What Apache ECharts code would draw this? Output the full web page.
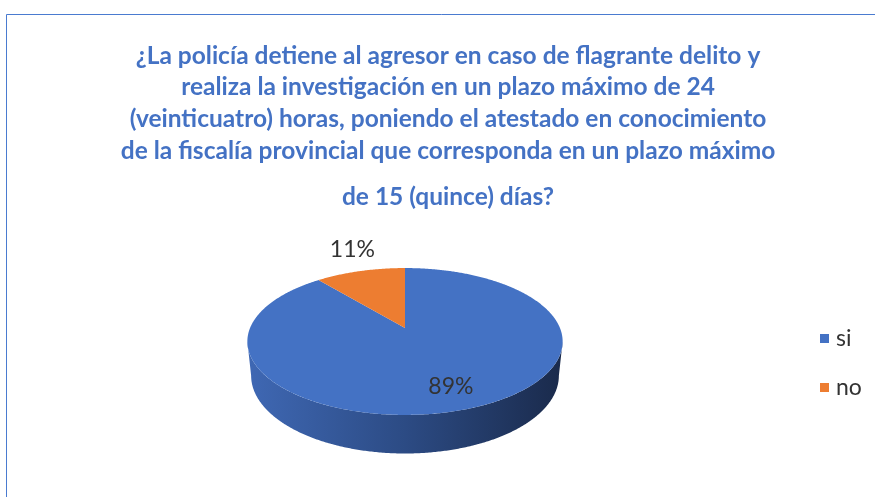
<!DOCTYPE html>
<html>
<head>
<meta charset="utf-8">
<script src="https://cdn.jsdelivr.net/npm/echarts@6/dist/echarts.min.js"></script>
<style>
html,body{margin:0;padding:0;background:#fff;}
#chart{width:875px;height:497px;}
</style>
</head>
<body>
<div id="chart"></div>
<script>
// ---- data ----
const categories = ['si', 'no'];
const values = [89, 11];
const colors = ['#4472C4', '#ED7D31'];
const titleLines = [
  '¿La policía detiene al agresor en caso de flagrante delito y',
  'realiza la investigación en un plazo máximo de 24',
  '(veinticuatro) horas, poniendo el atestado en conocimiento',
  'de la fiscalía provincial que corresponda en un plazo máximo'
];
const titleLast = 'de 15 (quince) días?';

// ---- 3D projection setup (view parameters, not data) ----
const P = { cx: 405, cy: 328, f: 750, D: 4.84, s: 0.458, c: 0.889, h: 0.25 };
function project(theta, r, z) {
  const x = r * Math.sin(theta), y = r * Math.cos(theta);
  const v = y * P.s + z * P.c;
  const depth = P.D + y * P.c - z * P.s;
  return [P.cx + P.f * x / depth, P.cy - P.f * v / depth];
}
// silhouette angles (screen-x extremes of the rim)
let thR = 0, thL = Math.PI, maxX = -1e9, minX = 1e9;
for (let a = 0; a <= 360; a += 0.25) {
  const t = a * Math.PI / 180; const p = project(t, 1, 0);
  if (p[0] > maxX) { maxX = p[0]; thR = t; }
  if (p[0] < minX) { minX = p[0]; thL = t; }
}
const total = values.reduce((a, b) => a + b, 0);
const starts = []; let acc = 0;
values.forEach(v => { starts.push(acc / total * 2 * Math.PI); acc += v; });

function arcPts(a, b, z) {
  const pts = []; const n = Math.max(2, Math.ceil((b - a) / (Math.PI / 360)));
  for (let i = 0; i <= n; i++) pts.push(project(a + (b - a) * i / n, 1, z));
  return pts;
}

function renderSlice(i) {
  return function (params, api) {
    const a = starts[i], b = a + values[i] / total * 2 * Math.PI;
    const children = [];
    const sa = Math.max(a, thR), sb = Math.min(b, thL);
    if (sb > sa) {
      const top = arcPts(sa, sb, 0), bot = arcPts(sa, sb, -P.h).reverse();
      const grad = new echarts.graphic.LinearGradient(minX, 0, maxX, 0, i === 0 ? [
        { offset: 0, color: '#3f68b4' }, { offset: 0.5, color: '#2c4b84' }, { offset: 1, color: '#1a2a4b' }
      ] : [
        { offset: 0, color: '#c9651f' }, { offset: 1, color: '#7a3c10' }
      ], true);
      children.push({ type: 'polygon', shape: { points: top.concat(bot) }, style: { fill: grad } });
    }
    const topPts = [project(0, 0, 0)].concat(arcPts(a, b, 0));
    children.push({ type: 'polygon', shape: { points: topPts }, style: { fill: colors[i] } });
    const mid = (a + b) / 2, share = values[i] / total;
    const pct = Math.round(share * 100) + '%';
    if (share > 0.2) {
      const p = project(mid, 0.76, 0);
      children.push({ type: 'text', x: p[0], y: p[1], style: { text: pct, fill: '#333', font: '23px Lato', align: 'center', verticalAlign: 'middle' } });
    } else {
      const p = project(mid, 1.05, 0);
      children.push({ type: 'text', x: p[0] - 6, y: p[1] - 8, style: { text: pct, fill: '#333', font: '23px Lato', align: 'center', verticalAlign: 'bottom' } });
    }
    return { type: 'group', children: children };
  };
}

const chart = echarts.init(document.getElementById('chart'), null, { renderer: 'canvas' });
chart.setOption({
  animation: false,
  backgroundColor: '#fff',
  title: [
    { text: titleLines.join('\n'), left: 443, top: 35, textAlign: 'center',
      textStyle: { fontFamily: 'Lato', fontWeight: 'bold', fontSize: 24.5, lineHeight: 31.7, color: '#4472C4' } },
    { text: titleLast, left: 443, top: 175.5, textAlign: 'center',
      textStyle: { fontFamily: 'Lato', fontWeight: 'bold', fontSize: 24.5, lineHeight: 34, color: '#4472C4' } }
  ],
  legend: {
    orient: 'vertical', left: 815, top: 321, icon: 'rect', itemWidth: 9, itemHeight: 9, itemGap: 24,
    data: categories,
    textStyle: { fontFamily: 'Lato', fontSize: 23, color: '#333', lineHeight: 25, padding: [0, 0, 0, 2] }
  },
  graphic: [
    { type: 'polyline', shape: { points: [[6.5, 500], [6.5, 14.5], [880, 14.5]] }, style: { stroke: '#4a7bd0', lineWidth: 1, fill: null } }
  ],
  series: categories.map((name, i) => ({
    type: 'custom', name: name, coordinateSystem: 'none',
    itemStyle: { color: colors[i] },
    renderItem: renderSlice(i),
    data: [values[i]]
  }))
});
</script>
</body>
</html>
